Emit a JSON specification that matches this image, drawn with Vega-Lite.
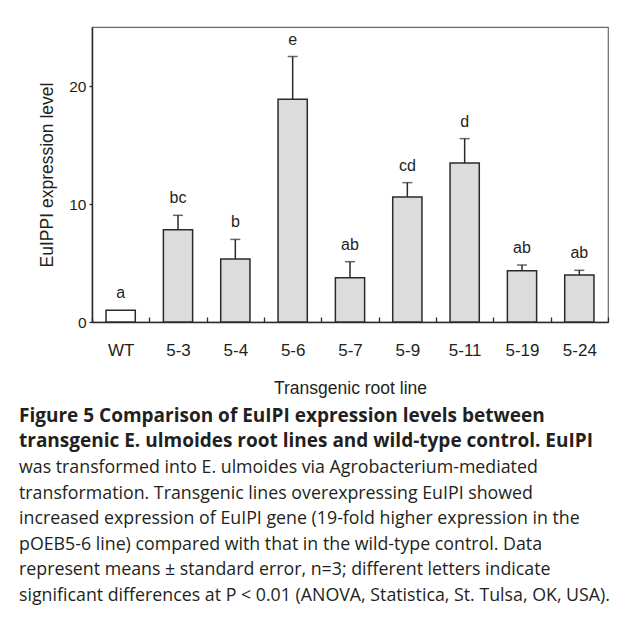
{
  "$schema": "https://vega.github.io/schema/vega-lite/v6.json",
  "width": 516,
  "height": 295,
  "autosize": "none",
  "padding": {"left": 92, "top": 27, "right": 20, "bottom": 298},
  "background": "white",
  "data": {
    "values": [
      {"line": "WT", "kind": "control", "mean": 1.0, "upper": 1.0, "letter": "a"},
      {"line": "5-3", "kind": "transgenic", "mean": 7.82, "upper": 9.04, "letter": "bc"},
      {"line": "5-4", "kind": "transgenic", "mean": 5.34, "upper": 7.0, "letter": "b"},
      {"line": "5-6", "kind": "transgenic", "mean": 18.87, "upper": 22.5, "letter": "e"},
      {"line": "5-7", "kind": "transgenic", "mean": 3.76, "upper": 5.11, "letter": "ab"},
      {"line": "5-9", "kind": "transgenic", "mean": 10.59, "upper": 11.81, "letter": "cd"},
      {"line": "5-11", "kind": "transgenic", "mean": 13.47, "upper": 15.54, "letter": "d"},
      {"line": "5-19", "kind": "transgenic", "mean": 4.35, "upper": 4.83, "letter": "ab"},
      {"line": "5-24", "kind": "transgenic", "mean": 3.98, "upper": 4.38, "letter": "ab"}
    ]
  },
  "title": {
    "text": ["Figure 5 Comparison of EuIPI expression levels between", "transgenic E. ulmoides root lines and wild-type control. EuIPI"],
    "subtitle": [
      "was transformed into E. ulmoides via Agrobacterium-mediated",
      "transformation. Transgenic lines overexpressing EuIPI showed",
      "increased expression of EuIPI gene (19-fold higher expression in the",
      "pOEB5-6 line) compared with that in the wild-type control. Data",
      "represent means ± standard error, n=3; different letters indicate",
      "significant differences at P < 0.01 (ANOVA, Statistica, St. Tulsa, OK, USA)."
    ],
    "orient": "bottom",
    "anchor": "start",
    "frame": "group",
    "dx": -73,
    "offset": 10,
    "font": "Open Sans",
    "fontSize": 19,
    "fontWeight": "bold",
    "color": "#231f20",
    "lineHeight": 25.5,
    "subtitleFont": "Open Sans",
    "subtitleFontSize": 17.8,
    "subtitleFontWeight": "normal",
    "subtitleColor": "#231f20",
    "subtitleLineHeight": 25.5,
    "subtitlePadding": 8
  },
  "encoding": {
    "x": {
      "field": "line",
      "type": "nominal",
      "sort": null,
      "scale": {"paddingInner": 0, "paddingOuter": 0},
      "axis": {
        "title": "Transgenic root line",
        "labelAngle": 0,
        "tickBand": "extent",
        "tickSize": -5,
        "labelPadding": 25,
        "titlePadding": 21
      }
    }
  },
  "layer": [
    {
      "mark": {"type": "bar", "width": {"band": 0.51}, "stroke": "#2a2a2a", "strokeWidth": 1.5},
      "encoding": {
        "y": {
          "field": "mean",
          "type": "quantitative",
          "scale": {"domain": [0, 25], "nice": false},
          "axis": {
            "title": "EuIPPI expression level",
            "values": [0, 10, 20],
            "tickSize": 3,
            "labelPadding": 3,
            "titlePadding": 12,
            "grid": false
          }
        },
        "fill": {
          "field": "kind",
          "type": "nominal",
          "scale": {"domain": ["control", "transgenic"], "range": ["#ffffff", "#dcdcdc"]},
          "legend": null
        }
      }
    },
    {
      "transform": [{"filter": "datum.upper > datum.mean"}],
      "mark": {"type": "rule", "color": "#2a2a2a", "strokeWidth": 1.5},
      "encoding": {
        "y": {"field": "mean", "type": "quantitative"},
        "y2": {"field": "upper"}
      }
    },
    {
      "transform": [{"filter": "datum.upper > datum.mean"}],
      "mark": {"type": "tick", "color": "#2a2a2a", "thickness": 1.5, "size": 10, "orient": "horizontal"},
      "encoding": {
        "y": {"field": "upper", "type": "quantitative"}
      }
    },
    {
      "mark": {"type": "text", "baseline": "alphabetic", "dy": -12, "fontSize": 16, "font": "Liberation Sans", "color": "#231f20"},
      "encoding": {
        "y": {"field": "upper", "type": "quantitative"},
        "text": {"field": "letter"}
      }
    }
  ],
  "config": {
    "view": {"stroke": "#6a6a6a", "strokeWidth": 1.2},
    "axis": {
      "domainColor": "#2a2a2a",
      "domainWidth": 1.5,
      "tickColor": "#2a2a2a",
      "tickWidth": 1.3,
      "labelFont": "Liberation Sans",
      "labelFontSize": 17,
      "labelColor": "#231f20",
      "titleFont": "Liberation Sans",
      "titleFontSize": 17.5,
      "titleFontWeight": "normal",
      "titleColor": "#231f20"
    },
    "axisY": {"labelFontSize": 15.5}
  }
}
